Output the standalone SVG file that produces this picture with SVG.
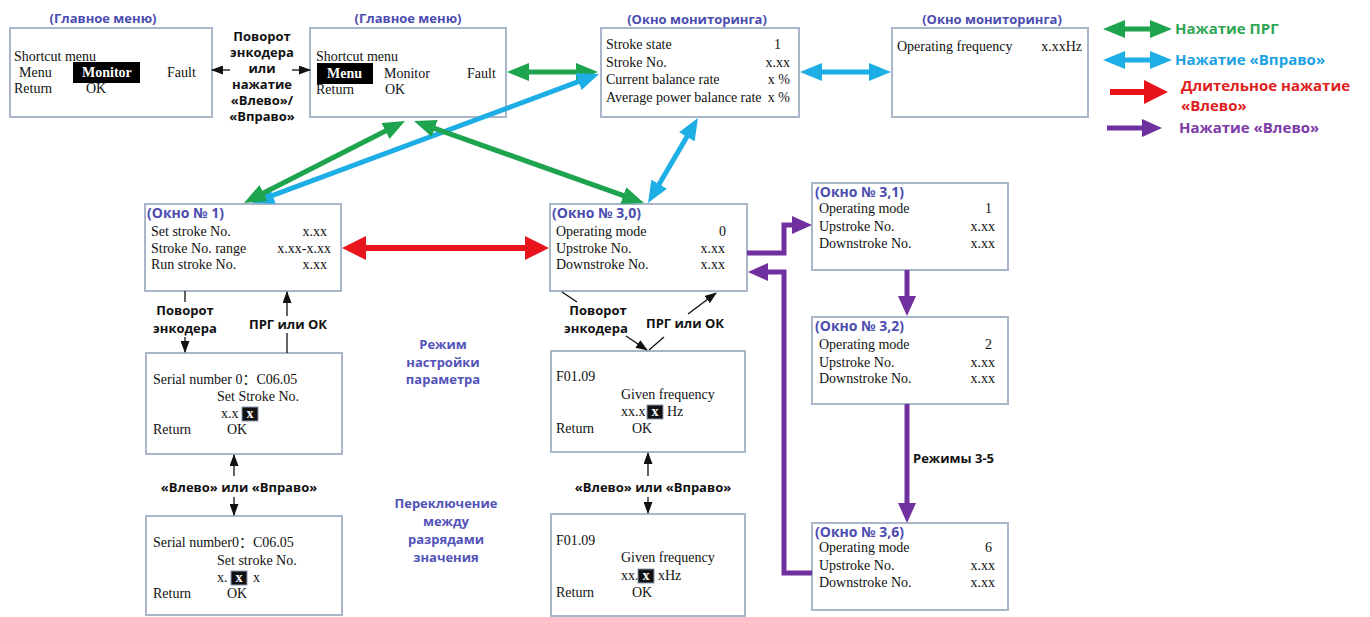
<svg xmlns="http://www.w3.org/2000/svg" width="1370" height="617" viewBox="0 0 1370 617">
<style>
.box{fill:#fff;stroke:#a9b6ca;stroke-width:2}
.t{font-family:"Liberation Serif",serif;font-size:14px;fill:#111}
.tb{font-family:"Liberation Serif",serif;font-size:14px;font-weight:bold;fill:#fff}
.cj{font-family:"Liberation Serif","Noto Sans CJK SC",serif;font-size:14px;fill:#111}
.r{text-anchor:end}
.c{text-anchor:middle}
.ttl{font-family:"Open Sans",sans-serif;font-weight:bold;font-size:13px;fill:#4b4cb0}
.wt{font-family:"Open Sans",sans-serif;font-weight:bold;font-size:14px;fill:#4b4cb0}
.lbl{font-family:"Open Sans",sans-serif;font-weight:bold;font-size:13px;fill:#111}
.blu{font-family:"Open Sans",sans-serif;font-weight:bold;font-size:13px;fill:#5252b8}
.leg{font-family:"Open Sans",sans-serif;font-weight:bold;font-size:15px}
.hl{fill:#000}
.hx{fill:#111;stroke:#8a9ab0;stroke-width:1}
.g{stroke:#1ea34e;stroke-width:5;fill:none}
.b{stroke:#1eaee6;stroke-width:5;fill:none}
.rd{stroke:#e8141b;stroke-width:6;fill:none}
.p{stroke:#7030a0;stroke-width:5;fill:none}
.k{stroke:#111;stroke-width:1.3;fill:none}
</style>
<defs>
<marker id="mg" viewBox="0 0 22 18" markerWidth="22" markerHeight="18" refX="10" refY="9" orient="auto-start-reverse" markerUnits="userSpaceOnUse"><path d="M0,0 L22,9 L0,18 z" fill="#1ea34e"/></marker>
<marker id="mb" viewBox="0 0 22 18" markerWidth="22" markerHeight="18" refX="10" refY="9" orient="auto-start-reverse" markerUnits="userSpaceOnUse"><path d="M0,0 L22,9 L0,18 z" fill="#1eaee6"/></marker>
<marker id="mr" viewBox="0 0 24 24" markerWidth="24" markerHeight="24" refX="10" refY="12" orient="auto-start-reverse" markerUnits="userSpaceOnUse"><path d="M0,0 L24,12 L0,24 z" fill="#e8141b"/></marker>
<marker id="mp" viewBox="0 0 20 18" markerWidth="20" markerHeight="18" refX="6" refY="9" orient="auto-start-reverse" markerUnits="userSpaceOnUse"><path d="M0,0 L20,9 L0,18 z" fill="#7030a0"/></marker>
<marker id="mk" viewBox="0 0 12 9" markerWidth="12" markerHeight="9" refX="11" refY="4.5" orient="auto-start-reverse" markerUnits="userSpaceOnUse"><path d="M0,0 L12,4.5 L0,9 z" fill="#111"/></marker>
</defs>
<rect width="1370" height="617" fill="#fff"/>

<g id="main1">
<text class="ttl c" x="103" y="23">(Главное меню)</text>
<rect class="box" x="10" y="28" width="202" height="89"/>
<text class="t" x="14" y="61">Shortcut menu</text>
<text class="t" x="19" y="77">Menu</text>
<rect class="hl" x="73" y="62" width="67" height="21"/>
<text class="tb" x="82" y="77">Monitor</text>
<text class="t" x="167" y="77">Fault</text>
<text class="t" x="14" y="93">Return</text>
<text class="t" x="86" y="93">OK</text>
</g>

<g id="main2">
<text class="ttl c" x="408" y="23">(Главное меню)</text>
<rect class="box" x="310" y="28" width="196" height="89"/>
<text class="t" x="316" y="61">Shortcut menu</text>
<rect class="hl" x="317" y="63" width="56" height="21"/>
<text class="tb" x="327" y="78">Menu</text>
<text class="t" x="384" y="78">Monitor</text>
<text class="t" x="467" y="78">Fault</text>
<text class="t" x="316" y="94">Return</text>
<text class="t" x="385" y="94">OK</text>
</g>

<g id="monitor1">
<text class="ttl c" x="697" y="24">(Окно мониторинга)</text>
<rect class="box" x="601" y="28" width="198" height="89"/>
<text class="t" x="606" y="49">Stroke state</text><text class="t r" x="781" y="49">1</text>
<text class="t" x="606" y="67">Stroke No.</text><text class="t r" x="790" y="67">x.xx</text>
<text class="t" x="606" y="84">Current balance rate</text><text class="t r" x="790" y="84">x %</text>
<text class="t" x="606" y="102">Average power balance rate</text><text class="t r" x="790" y="102">x %</text>
</g>

<g id="monitor2">
<text class="ttl c" x="992" y="24">(Окно мониторинга)</text>
<rect class="box" x="892" y="28" width="196" height="89"/>
<text class="t" x="897" y="51">Operating frequency</text><text class="t r" x="1082" y="51">x.xxHz</text>
</g>

<g id="legend">
<line class="g" x1="1115" y1="29" x2="1160" y2="29" marker-start="url(#mg)" marker-end="url(#mg)"/>
<text class="leg" x="1175" y="34" fill="#2ea655">Нажатие ПРГ</text>
<line class="b" x1="1115" y1="60" x2="1160" y2="60" marker-start="url(#mb)" marker-end="url(#mb)"/>
<text class="leg" x="1175" y="65" fill="#1ba1e2">Нажатие «Вправо»</text>
<line class="rd" x1="1110" y1="92" x2="1154" y2="92" marker-end="url(#mr)"/>
<text class="leg" x="1181" y="91" fill="#e02020" font-size="14.5">Длительное нажатие</text>
<text class="leg" x="1181" y="111" fill="#e02020" font-size="14.5">«Влево»</text>
<line class="p" x1="1107" y1="128" x2="1148" y2="128" marker-end="url(#mp)"/>
<text class="leg" x="1179" y="133" fill="#7d3aa8">Нажатие «Влево»</text>
</g>

<g id="win1">
<rect class="box" x="145" y="204" width="196" height="87"/>
<text class="wt" x="147" y="218">(Окно № 1)</text>
<text class="t" x="151" y="236">Set stroke No.</text><text class="t r" x="327" y="236">x.xx</text>
<text class="t" x="151" y="253">Stroke No. range</text><text class="t r" x="331" y="253">x.xx-x.xx</text>
<text class="t" x="151" y="269">Run stroke No.</text><text class="t r" x="327" y="269">x.xx</text>
</g>

<g id="win30">
<rect class="box" x="550" y="204" width="197" height="87"/>
<text class="wt" x="552" y="218">(Окно № 3,0)</text>
<text class="t" x="556" y="236">Operating mode</text><text class="t r" x="726" y="236">0</text>
<text class="t" x="556" y="253">Upstroke No.</text><text class="t r" x="725" y="253">x.xx</text>
<text class="t" x="556" y="269">Downstroke No.</text><text class="t r" x="725" y="269">x.xx</text>
</g>

<g id="win31">
<rect class="box" x="812" y="183" width="196" height="87"/>
<text class="wt" x="815" y="197">(Окно № 3,1)</text>
<text class="t" x="819" y="213">Operating mode</text><text class="t r" x="992" y="213">1</text>
<text class="t" x="819" y="231">Upstroke No.</text><text class="t r" x="995" y="231">x.xx</text>
<text class="t" x="819" y="248">Downstroke No.</text><text class="t r" x="995" y="248">x.xx</text>
</g>

<g id="win32">
<rect class="box" x="812" y="317" width="196" height="87"/>
<text class="wt" x="815" y="331">(Окно № 3,2)</text>
<text class="t" x="819" y="349">Operating mode</text><text class="t r" x="992" y="349">2</text>
<text class="t" x="819" y="367">Upstroke No.</text><text class="t r" x="995" y="367">x.xx</text>
<text class="t" x="819" y="383">Downstroke No.</text><text class="t r" x="995" y="383">x.xx</text>
</g>

<g id="win36">
<rect class="box" x="812" y="523" width="196" height="87"/>
<text class="wt" x="815" y="537">(Окно № 3,6)</text>
<text class="t" x="819" y="552">Operating mode</text><text class="t r" x="992" y="552">6</text>
<text class="t" x="819" y="570">Upstroke No.</text><text class="t r" x="995" y="570">x.xx</text>
<text class="t" x="819" y="587">Downstroke No.</text><text class="t r" x="995" y="587">x.xx</text>
</g>

<g id="set1">
<rect class="box" x="146" y="353" width="196" height="101"/>
<text class="cj" x="153" y="384">Serial number 0：C06.05</text>
<text class="t" x="217" y="401">Set Stroke No.</text>
<text class="t" x="221" y="418">x.x</text>
<rect class="hx" x="242" y="407" width="16" height="14"/>
<text class="tb c" x="250" y="418" font-size="12">x</text>
<text class="t" x="153" y="434">Return</text>
<text class="t" x="227" y="434">OK</text>
</g>

<g id="set2">
<rect class="box" x="146" y="516" width="196" height="99"/>
<text class="cj" x="153" y="547">Serial number0：C06.05</text>
<text class="t" x="217" y="565">Set stroke No.</text>
<text class="t" x="217" y="582">x.</text>
<rect class="hx" x="231" y="571" width="16" height="14"/>
<text class="tb c" x="239" y="582" font-size="12">x</text>
<text class="t" x="253" y="582">x</text>
<text class="t" x="153" y="598">Return</text>
<text class="t" x="227" y="598">OK</text>
</g>

<g id="freq1">
<rect class="box" x="551" y="351" width="194" height="101"/>
<text class="t" x="556" y="381">F01.09</text>
<text class="t" x="621" y="399">Given frequency</text>
<text class="t" x="621" y="416">xx.x</text>
<rect class="hx" x="647" y="405" width="16" height="14"/>
<text class="tb c" x="655" y="416" font-size="12">x</text>
<text class="t" x="667" y="416">Hz</text>
<text class="t" x="556" y="433">Return</text>
<text class="t" x="632" y="433">OK</text>
</g>

<g id="freq2">
<rect class="box" x="551" y="514" width="194" height="102"/>
<text class="t" x="556" y="545">F01.09</text>
<text class="t" x="621" y="562">Given frequency</text>
<text class="t" x="621" y="580">xx.</text>
<rect class="hx" x="638" y="569" width="16" height="14"/>
<text class="tb c" x="646" y="580" font-size="12">x</text>
<text class="t" x="658" y="580">xHz</text>
<text class="t" x="556" y="597">Return</text>
<text class="t" x="632" y="597">OK</text>
</g>

<g id="notes">
<text class="blu c" x="443" y="349">Режим</text>
<text class="blu c" x="443" y="367">настройки</text>
<text class="blu c" x="443" y="384">параметра</text>
<text class="blu c" x="446" y="508">Переключение</text>
<text class="blu c" x="446" y="526">между</text>
<text class="blu c" x="446" y="544">разрядами</text>
<text class="blu c" x="446" y="562">значения</text>
</g>

<g id="connectors">
<line class="k" x1="230" y1="70" x2="212" y2="70" marker-end="url(#mk)"/>
<line class="k" x1="292" y1="70" x2="310" y2="70" marker-end="url(#mk)"/>
<text class="lbl c" x="262" y="41">Поворот</text>
<text class="lbl c" x="262" y="57">энкодера</text>
<text class="lbl c" x="262" y="73">или</text>
<text class="lbl c" x="262" y="89">нажатие</text>
<text class="lbl c" x="262" y="105">«Влево»/</text>
<text class="lbl c" x="262" y="121">«Вправо»</text>
<line class="g" x1="519" y1="72" x2="586" y2="72" marker-start="url(#mg)" marker-end="url(#mg)"/>
<line class="b" x1="812" y1="72" x2="879" y2="72" marker-start="url(#mb)" marker-end="url(#mb)"/>
<line class="b" x1="263.25" y1="198.82" x2="587.75" y2="78.18" marker-start="url(#mb)" marker-end="url(#mb)"/>
<line class="g" x1="254.7" y1="197.55" x2="394.3" y2="126.45" marker-start="url(#mg)" marker-end="url(#mg)"/>
<line class="g" x1="425.3" y1="125.03" x2="632.7" y2="198.97" marker-start="url(#mg)" marker-end="url(#mg)"/>
<line class="b" x1="691.9" y1="128.3" x2="654.1" y2="192.7" marker-start="url(#mb)" marker-end="url(#mb)"/>
<line class="rd" x1="356" y1="248" x2="535" y2="248" marker-start="url(#mr)" marker-end="url(#mr)"/>
<path class="p" d="M747,253 H784 V225 H798" marker-end="url(#mp)"/>
<path class="p" d="M907,270 V302" marker-end="url(#mp)"/>
<path class="p" d="M907,404 V509" marker-end="url(#mp)"/>
<path class="p" d="M812,573 H784 V272 H762" marker-end="url(#mp)"/>
<text class="lbl" x="913" y="463" font-size="15">Режимы 3-5</text>

<line class="k" x1="185" y1="291" x2="185" y2="302"/>
<line class="k" x1="185" y1="337" x2="185" y2="352" marker-end="url(#mk)"/>
<text class="lbl c" x="185" y="315">Поворот</text>
<text class="lbl c" x="185" y="333">энкодера</text>
<line class="k" x1="287" y1="353" x2="287" y2="333"/>
<line class="k" x1="287" y1="316" x2="287" y2="292" marker-end="url(#mk)"/>
<text class="lbl c" x="288" y="329">ПРГ или ОК</text>
<line class="k" x1="234" y1="476" x2="234" y2="455" marker-end="url(#mk)"/>
<line class="k" x1="234" y1="497" x2="234" y2="515" marker-end="url(#mk)"/>
<text class="lbl c" x="239" y="492">«Влево» или «Вправо»</text>

<line class="k" x1="562" y1="292" x2="577" y2="302"/>
<line class="k" x1="626" y1="336" x2="647" y2="350" marker-end="url(#mk)"/>
<text class="lbl c" x="598" y="315">Поворот</text>
<text class="lbl c" x="596" y="333">энкодера</text>
<line class="k" x1="649" y1="350" x2="664" y2="337"/>
<line class="k" x1="688" y1="314" x2="716" y2="293" marker-end="url(#mk)"/>
<text class="lbl c" x="685" y="328">ПРГ или ОК</text>
<line class="k" x1="648" y1="476" x2="648" y2="453" marker-end="url(#mk)"/>
<line class="k" x1="648" y1="497" x2="648" y2="513" marker-end="url(#mk)"/>
<text class="lbl c" x="653" y="492">«Влево» или «Вправо»</text>
</g>
</svg>
